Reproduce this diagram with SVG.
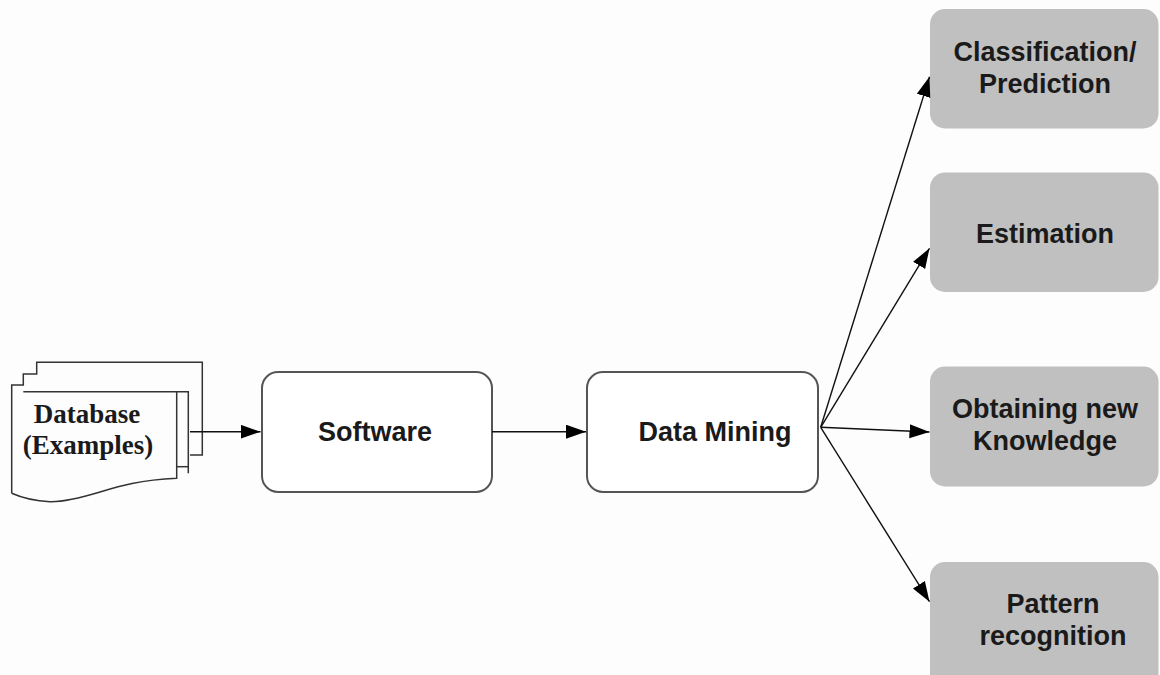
<svg xmlns="http://www.w3.org/2000/svg" width="1160" height="675" viewBox="0 0 1160 675">
  <style>
    .doc { fill: none; stroke: #333; stroke-width: 1.5; }
    .proc { fill: #ffffff; stroke: #555; stroke-width: 2; }
    .result { fill: #c0c0c0; stroke: none; }
    .serif { font-family: "Liberation Serif", "Times New Roman", serif; font-weight: bold; font-size: 27px; fill: #1a1a1a; }
    .sans { font-family: "Liberation Sans", Arial, sans-serif; font-weight: bold; font-size: 27px; fill: #1a1a1a; }
    .conn { fill: none; stroke: #111; stroke-width: 1.4; }
  </style>
  <defs>
    <marker id="arrow" markerUnits="userSpaceOnUse" markerWidth="22" markerHeight="16" refX="20" refY="7" orient="auto">
      <path d="M0,0 L20,7 L0,14 z" fill="#000"/>
    </marker>
  </defs>

  <rect width="1160" height="675" fill="#fdfdfd"/>

  <!-- stacked documents -->
  <g id="database">
    <path class="doc" d="M11.7,493.3 L11.7,385 L23.3,385 L23.3,374 L36.7,374 L36.7,362.3 L202.3,362.3 L202.3,455 L190,455"/>
    <path class="doc" d="M23.3,391.7 L188.3,391.7 L188.3,473.3"/>
    <path class="doc" d="M176.7,466.7 L188.3,466.7"/>
    <path class="doc" d="M176.7,391.7 L176.7,478.3 C140,480 120,486 100,492 C80,498 62,502 50,501.7 C35,501 20,497 11.7,493.3"/>
    <text class="serif" x="87" y="422.7" text-anchor="middle">Database</text>
    <text class="serif" x="88" y="453.5" text-anchor="middle">(Examples)</text>
  </g>

  <g id="software">
    <rect class="proc" x="262" y="372" width="230" height="120" rx="16" ry="16"/>
    <text class="sans" x="375" y="441" text-anchor="middle">Software</text>
  </g>

  <g id="data-mining">
    <rect class="proc" x="587" y="372" width="231" height="120" rx="16" ry="16"/>
    <text class="sans" x="715" y="441" text-anchor="middle">Data Mining</text>
  </g>

  <g id="classification">
    <rect class="result" x="930" y="9" width="228.5" height="119.5" rx="15" ry="15"/>
    <text class="sans" x="1045" y="60.7" text-anchor="middle">Classification/</text>
    <text class="sans" x="1045" y="93" text-anchor="middle">Prediction</text>
  </g>

  <g id="estimation">
    <rect class="result" x="930" y="172.5" width="228.5" height="119.5" rx="15" ry="15"/>
    <text class="sans" x="1045" y="243.3" text-anchor="middle">Estimation</text>
  </g>

  <g id="knowledge">
    <rect class="result" x="930" y="366.5" width="228.5" height="120" rx="15" ry="15"/>
    <text class="sans" x="1045" y="418.3" text-anchor="middle">Obtaining new</text>
    <text class="sans" x="1045" y="450" text-anchor="middle">Knowledge</text>
  </g>

  <g id="pattern">
    <rect class="result" x="930" y="562" width="228.5" height="130" rx="15" ry="15"/>
    <text class="sans" x="1053" y="613.3" text-anchor="middle">Pattern</text>
    <text class="sans" x="1053" y="645" text-anchor="middle">recognition</text>
  </g>

  <g id="connectors">
    <line class="conn" x1="190" y1="431.7" x2="260.5" y2="431.7" marker-end="url(#arrow)"/>
    <line class="conn" x1="492" y1="431.7" x2="586" y2="431.7" marker-end="url(#arrow)"/>
    <line class="conn" x1="820.7" y1="427.3" x2="929.5" y2="76.7" marker-end="url(#arrow)"/>
    <line class="conn" x1="820.7" y1="427.3" x2="929.5" y2="248.3" marker-end="url(#arrow)"/>
    <line class="conn" x1="820.7" y1="427.3" x2="929.5" y2="432" marker-end="url(#arrow)"/>
    <line class="conn" x1="820.7" y1="427.3" x2="929.5" y2="601.7" marker-end="url(#arrow)"/>
  </g>
</svg>
